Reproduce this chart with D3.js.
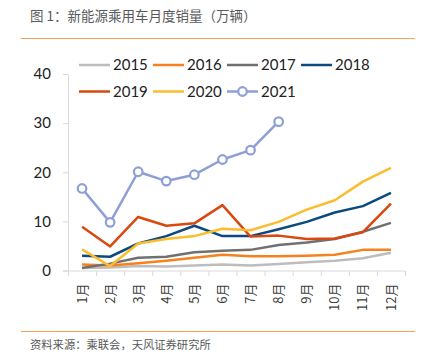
<!DOCTYPE html>
<html>
<head>
<meta charset="utf-8">
<script src="https://cdn.jsdelivr.net/npm/d3@7"></script>
<style>
  body { margin: 0; background: #fff; }
  svg { display: block; }
</style>
</head>
<body>
<div id="chart"></div>
<script>
// data
var months = ["1月","2月","3月","4月","5月","6月","7月","8月","9月","10月","11月","12月"];
var yTicks = [0, 10, 20, 30, 40];
var v2015 = [0.5, 0.6, 0.9, 0.8, 1.0, 1.2, 1.0, 1.3, 1.7, 2.0, 2.5, 3.6];
var v2016 = [1.2, 1.0, 1.5, 2.0, 2.6, 3.2, 2.9, 2.9, 3.0, 3.2, 4.2, 4.2];
var v2017 = [0.5, 1.4, 2.6, 2.8, 3.7, 4.0, 4.2, 5.2, 5.7, 6.4, 7.9, 9.7];
var v2018 = [3.0, 2.8, 5.5, 7.0, 9.1, 7.0, 7.0, 8.4, 9.9, 11.8, 13.1, 15.8];
var v2019 = [8.9, 4.9, 10.9, 9.1, 9.6, 13.3, 6.9, 7.1, 6.4, 6.5, 7.8, 13.6];
var v2020 = [4.3, 0.9, 5.5, 6.4, 7.0, 8.5, 8.2, 9.9, 12.4, 14.3, 18.1, 20.9];
var v2021 = [16.7, 9.8, 20.1, 18.2, 19.5, 22.6, 24.5, 30.3];

var series = [
  {name: "2015", values: v2015, color: "#BDBDBD"},
  {name: "2016", values: v2016, color: "#F5821F"},
  {name: "2017", values: v2017, color: "#707070"},
  {name: "2018", values: v2018, color: "#0B4A7E"},
  {name: "2019", values: v2019, color: "#D9480F"},
  {name: "2020", values: v2020, color: "#FBBD2D"},
  {name: "2021", values: v2021, color: "#8E9FD5", marker: true}
];

var W = 421, H = 354;
var svg = d3.select("#chart").append("svg").attr("width", W).attr("height", H);

var cn = "'Noto Sans CJK SC', sans-serif";
var num = "Lato, 'Liberation Sans', sans-serif";

// title + rules
svg.append("text").attr("x", 30).attr("y", 21)
  .attr("font-family", cn).attr("font-size", 13.5).attr("fill", "#595959")
  .text("图 1：新能源乘用车月度销量（万辆）");
svg.append("line").attr("x1", 21).attr("x2", 415).attr("y1", 38.5).attr("y2", 38.5)
  .attr("stroke", "#F7A258").attr("stroke-width", 1);
svg.append("line").attr("x1", 21).attr("x2", 415).attr("y1", 331.5).attr("y2", 331.5)
  .attr("stroke", "#F7A258").attr("stroke-width", 1);
svg.append("text").attr("x", 30).attr("y", 349)
  .attr("font-family", cn).attr("font-size", 11.3).attr("fill", "#595959")
  .text("资料来源：乘联会，天风证券研究所");

var x = d3.scaleBand().domain(months).range([68, 405]);
var y = d3.scaleLinear().domain([0, 40]).range([270.5, 74]);

var x_axis = d3.axisBottom(x).tickSize(5).tickSizeOuter(0);
var y_axis = d3.axisLeft(y).tickValues(yTicks).tickSize(5).tickSizeOuter(0);

var gx = svg.append("g").attr("transform", "translate(0,270.5)").call(x_axis);
gx.select(".domain").attr("stroke", "#D9D9D9").attr("d", "M63,0.5H405");
// ticks at band boundaries
gx.selectAll(".tick line").remove();
x.domain().concat([null]).forEach(function(m, i) {
  var xx = (m === null ? x.range()[1] : x(m)) + 0.5;
  gx.append("line").attr("x1", xx).attr("x2", xx).attr("y1", 0.5).attr("y2", 5.5)
    .attr("stroke", "#D9D9D9");
});
gx.selectAll(".tick text")
  .attr("font-family", cn).attr("font-size", 13).attr("fill", "#404040")
  .attr("transform", "rotate(-90)")
  .attr("text-anchor", "end")
  .attr("x", -13).attr("y", 0).attr("dy", "0.35em");

var gy = svg.append("g").attr("transform", "translate(68,0)").call(y_axis);
gy.select(".domain").attr("stroke", "#D9D9D9");
gy.selectAll(".tick line").attr("stroke", "#D9D9D9");
gy.selectAll(".tick text")
  .attr("font-family", num).attr("font-size", 15).attr("fill", "#222")
  .attr("x", -17);

var line = d3.line()
  .x(function(d, i) { return x(months[i]) + x.bandwidth() / 2; })
  .y(function(d) { return y(d); });

series.forEach(function(s) {
  svg.append("path").datum(s.values)
    .attr("fill", "none").attr("stroke", s.color).attr("stroke-width", 2.5)
    .attr("stroke-linejoin", "round")
    .attr("d", line);
  if (s.marker) {
    svg.selectAll(null).data(s.values).enter().append("circle")
      .attr("cx", function(d, i) { return x(months[i]) + x.bandwidth() / 2; })
      .attr("cy", function(d) { return y(d); })
      .attr("r", 4.3).attr("fill", "#fff")
      .attr("stroke", s.color).attr("stroke-width", 2.2);
  }
});

// legend
var lg = svg.append("g");
series.forEach(function(s, i) {
  var col = i % 4, row = Math.floor(i / 4);
  var lx = 79 + col * 74, ly = 65 + row * 26.5;
  lg.append("line").attr("x1", lx).attr("x2", lx + 31).attr("y1", ly).attr("y2", ly)
    .attr("stroke", s.color).attr("stroke-width", 2.5);
  if (s.marker) {
    lg.append("circle").attr("cx", lx + 15.5).attr("cy", ly).attr("r", 4.3)
      .attr("fill", "#fff").attr("stroke", s.color).attr("stroke-width", 2.2);
  }
  lg.append("text").attr("x", lx + 34).attr("y", ly).attr("dy", "0.36em")
    .attr("font-family", num).attr("font-size", 15).attr("fill", "#222")
    .text(s.name);
});
</script>
</body>
</html>
